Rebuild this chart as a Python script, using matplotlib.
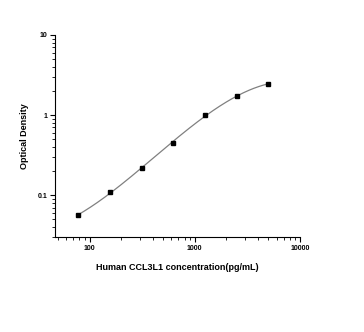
import numpy as np
import matplotlib
matplotlib.use("Agg")
import matplotlib.pyplot as plt
from matplotlib.ticker import LogLocator, NullFormatter

conc = [78.125, 156.25, 312.5, 625, 1250, 2500, 5000]
od = [0.056, 0.110, 0.216, 0.451, 1.00, 1.73, 2.44]
x_ticks = [100, 1000, 10000]
x_tick_labels = ["100", "1000", "10000"]
y_ticks = [0.1, 1, 10]
y_tick_labels = ["0.1", "1", "10"]

plt.rcParams['font.family'] = ['Liberation Sans', 'DejaVu Sans']

fig = plt.figure(figsize=(3.64, 3.32), dpi=100)
ax = fig.add_axes([55/364, (332-237)/332, (300-55)/364, (237-35)/332])

# smooth fitted curve (cubic fit in log-log space)
lx = np.log10(conc)
ly = np.log10(od)
coef = np.polyfit(lx, ly, 3)
xs = np.linspace(lx[0], lx[-1], 200)
ax.plot(10**xs, 10**np.polyval(coef, xs), color='#808080', lw=0.9, zorder=2)
ax.plot(conc, od, 's', color='black', ms=2.7, zorder=3)

ax.set_xscale('log')
ax.set_yscale('log')
ax.set_xlim(47, 10000)
ax.set_ylim(0.03, 10)

for s in ['top', 'right']:
    ax.spines[s].set_visible(False)
for s in ['left', 'bottom']:
    ax.spines[s].set_linewidth(0.8)

ax.set_xticks(x_ticks)
ax.set_xticklabels(x_tick_labels)
ax.set_yticks(y_ticks)
ax.set_yticklabels(y_tick_labels)
ax.xaxis.set_minor_locator(LogLocator(base=10, subs=np.arange(2, 10)))
ax.yaxis.set_minor_locator(LogLocator(base=10, subs=np.arange(2, 10)))
ax.xaxis.set_minor_formatter(NullFormatter())
ax.yaxis.set_minor_formatter(NullFormatter())
ax.tick_params(which='major', direction='out', length=3.5, width=0.8, labelsize=5, pad=2)
ax.tick_params(which='minor', direction='out', length=2, width=0.6)
for lab in ax.get_xticklabels() + ax.get_yticklabels():
    lab.set_fontweight('bold')

ax.set_xlabel("Human CCL3L1 concentration(pg/mL)", fontsize=6.5, fontweight='bold', labelpad=8)
ax.set_ylabel("Optical Density", fontsize=6.5, fontweight='bold', labelpad=6)

fig.savefig("out.png", dpi=100)
